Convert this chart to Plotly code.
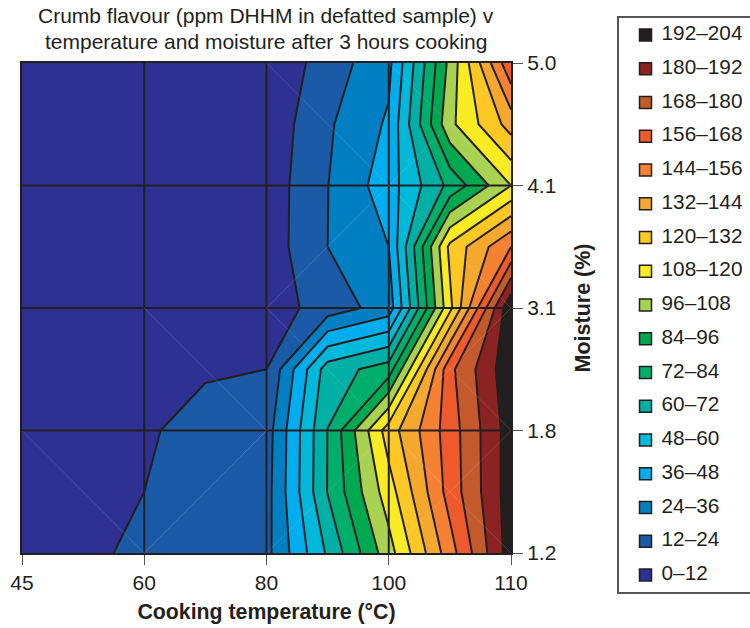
import plotly.graph_objects as go

FONT = "Liberation Sans"
INK = "#231f20"

temperature_labels = ["45", "60", "80", "100", "110"]
moisture_labels = ["1.2", "1.8", "3.1", "4.1", "5.0"]
grid_x = [0, 0.5, 1, 1.5, 2, 2.5, 3, 3.5, 4]
grid_y = [0, 0.5, 1, 1.5, 2, 2.5, 3, 3.5, 4]

dhhm_ppm = [
    [9, 11, 13, 16.8, 20.6, 61.8, 103, 150.75, 198.5],
    [9, 10.5, 12, 15.6, 19.55, 72.5, 114.5, 161, 198.25],
    [9, 10, 11, 14.75, 18.5, 72.25, 126, 162, 198],
    [6, 7, 9, 11.2, 12, 66, 77.75, 165, 201],
    [3, 5, 7, 6.25, 5.5, 17.5, 29.5, 116.75, 203],
    [2.5, 3, 4.5, 4, 5.25, 24, 36, 123, 156],
    [2, 2, 2, 3.5, 5, 23.75, 42.5, 75.25, 108],
    [2, 2, 2, 2.5, 3.5, 22.3, 37.75, 105, 137],
    [2, 2, 2, 2, 2, 17.5, 33, 99.5, 166],
]

band_labels = ["0–12", "12–24", "24–36", "36–48", "48–60", "60–72", "72–84", "84–96", "96–108",
               "108–120", "120–132", "132–144", "144–156", "156–168", "168–180", "180–192", "192–204"]
band_colors = ["#2e3192", "#1b5aa6", "#0080c3", "#00aeef", "#00b9da", "#00b0a5", "#00ae6c", "#00a94f", "#a8d24f",
               "#f9ec23", "#fdc823", "#f5a82e", "#f58233", "#ef5a2d", "#c4592c", "#8b2323", INK]

n = len(band_colors)
colorscale = []
for i, c in enumerate(band_colors):
    colorscale += [[i / n, c], [(i + 1) / n, c]]

fig = go.Figure()
fig.add_trace(go.Contour(
    x=grid_x, y=grid_y, z=dhhm_ppm, zmin=0, zmax=204,
    colorscale=colorscale, showscale=False,
    contours=dict(start=0, end=204, size=12, coloring="fill"),
    line=dict(color=INK, width=2, smoothing=0),
    xaxis="x", yaxis="y", hoverinfo="skip",
))

# legend drawn as its own small panel
legend_rows = list(range(n))
fig.add_trace(go.Scatter(
    x=[26.5] * n, y=legend_rows, mode="markers", xaxis="x2", yaxis="y2",
    marker=dict(symbol="square", size=12, color=band_colors, line=dict(color=INK, width=1.5)),
    hoverinfo="skip", showlegend=False,
))
fig.add_trace(go.Scatter(
    x=[42.5] * n, y=legend_rows, mode="text", xaxis="x2", yaxis="y2",
    text=band_labels, textposition="middle right",
    textfont=dict(family=FONT, size=20.8, color=INK),
    hoverinfo="skip", showlegend=False,
))

shapes = []
for p in [1, 2, 3]:
    shapes.append(dict(type="line", xref="x", yref="y", x0=p, x1=p, y0=0, y1=4, line=dict(color=INK, width=2), layer="above"))
    shapes.append(dict(type="line", xref="x", yref="y", x0=0, x1=4, y0=p, y1=p, line=dict(color=INK, width=2), layer="above"))

# faint triangulation diagonals
diagonals = [(0, 1, 1, 0), (1, 0, 2, 1), (1, 2, 2, 1), (2, 4, 3, 3), (2, 2, 3, 3), (2, 2, 3, 1), (2, 0, 3, 1),
             (3, 0, 4, 1), (3, 1, 4, 0), (3, 1, 4, 2), (3, 2, 4, 1), (3, 2, 4, 3), (3, 3, 4, 2), (3, 3, 4, 4), (3, 4, 4, 3)]
for x0, y0, x1, y1 in diagonals:
    shapes.append(dict(type="line", xref="x", yref="y", x0=x0, x1=x1, y0=y0, y1=y1,
                       line=dict(color="rgba(255,255,255,0.18)", width=0.8), layer="above"))

W, H = 750, 628
axis_common = dict(showgrid=False, zeroline=False, ticks="outside", ticklen=10, tickwidth=1, tickcolor="#555555",
                   showline=True, linecolor=INK, linewidth=2, mirror=True,
                   tickfont=dict(family=FONT, size=21, color=INK))
fig.update_layout(
    width=W, height=H, autosize=False, showlegend=False,
    margin=dict(l=0, r=0, t=0, b=0, autoexpand=False), paper_bgcolor="white", plot_bgcolor="white",
    xaxis=dict(axis_common, domain=[22 / W, 511 / W], range=[0, 4], anchor="y", tickmode="array",
               tickvals=[0, 1, 2, 3, 4], ticktext=temperature_labels,
               title=dict(text="<b>Cooking temperature (°C)</b>", standoff=11,
                          font=dict(family=FONT, size=21.3, color=INK))),
    yaxis=dict(axis_common, domain=[1 - 553 / H, 1 - 63 / H], range=[0, 4], anchor="x", side="right", tickmode="array",
               tickvals=[0, 1, 2, 3, 4], ticktext=moisture_labels,
               title=dict(text="<b>Moisture (%)</b>", standoff=20,
                          font=dict(family=FONT, size=21.5, color=INK))),
    xaxis2=dict(domain=[619 / W, 1], range=[0, 131], anchor="y2", visible=True, showticklabels=False, ticks="",
                showgrid=False, zeroline=False, showline=True, linecolor="#555555", linewidth=1.5, mirror=True),
    yaxis2=dict(domain=[1 - 592 / H, 1 - 18 / H], range=[-0.504, 16.504], anchor="x2", showticklabels=False, ticks="",
                showgrid=False, zeroline=False, showline=True, linecolor="#555555", linewidth=1.5, mirror=True),
    shapes=shapes,
    annotations=[
        dict(text="Crumb flavour (ppm DHHM in defatted sample) v", xref="paper", yref="paper", x=266 / W, y=1 - 16 / H,
             showarrow=False, xanchor="center", yanchor="middle", font=dict(family=FONT, size=21, color=INK)),
        dict(text="temperature and moisture after 3 hours cooking", xref="paper", yref="paper", x=266 / W, y=1 - 42 / H,
             showarrow=False, xanchor="center", yanchor="middle", font=dict(family=FONT, size=21, color=INK)),
    ],
)
fig.write_html("out.html", config={"displayModeBar": False},
               post_script="document.body.style.margin='0';document.body.style.overflow='hidden';")
